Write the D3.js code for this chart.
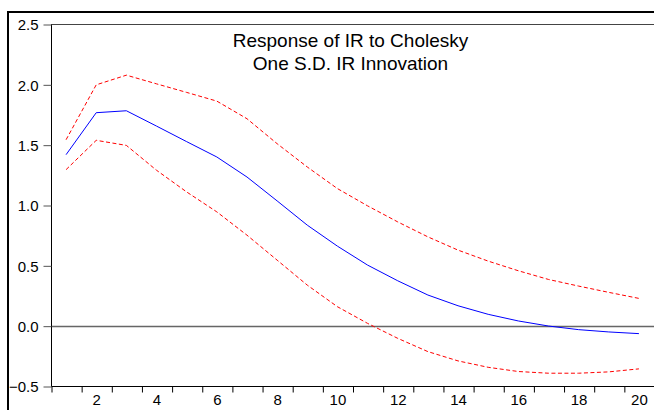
<!DOCTYPE html>
<html>
<head>
<meta charset="utf-8">
<script src="https://cdn.jsdelivr.net/npm/d3@7"></script>
<style>
  body { margin: 0; background: #fff; }
  svg { display: block; font-family: "Liberation Sans", Arial, sans-serif; }
</style>
</head>
<body>
<div id="chart"></div>
<script>
// impulse response periods
const periods = d3.range(1, 21);

// response of IR to one S.D. IR innovation
const response = [1.417, 1.765, 1.781, 1.654, 1.525, 1.398, 1.232, 1.034, 0.833, 0.659,
                  0.502, 0.372, 0.254, 0.165, 0.094, 0.039, -0.003, -0.033, -0.052, -0.066];

// +/- 2 S.E. bands
const upperBand = [1.541, 1.996, 2.076, 2.004, 1.933, 1.861, 1.715, 1.508, 1.315, 1.136,
                   0.993, 0.860, 0.736, 0.626, 0.535, 0.455, 0.383, 0.328, 0.276, 0.226];
const lowerBand = [1.293, 1.536, 1.494, 1.288, 1.108, 0.943, 0.750, 0.543, 0.336, 0.157,
                   0.019, -0.105, -0.215, -0.292, -0.345, -0.380, -0.394, -0.394, -0.383, -0.358];

const yTicks = [-0.5, 0.0, 0.5, 1.0, 1.5, 2.0, 2.5];
const xLabels = [2, 4, 6, 8, 10, 12, 14, 16, 18, 20];
const titleLines = ['Response of IR to Cholesky', 'One S.D. IR Innovation'];

const width = 654, height = 410;
const plotLeft = 51, plotRight = 654, plotTop = 24, plotBottom = 386;

const svg = d3.select('#chart')
  .append('svg')
  .attr('width', width)
  .attr('height', height);

// outer frame (runs off the right / bottom edge)
svg.append('path')
  .attr('d', `M8,${height + 5}V12H${width + 5}`)
  .attr('fill', 'none')
  .attr('stroke', '#000')
  .attr('stroke-width', 2);

const x = d3.scaleLinear().domain([0.5, 20.5]).range([plotLeft, plotRight]);
const y = d3.scaleLinear().domain([-0.5, 2.5]).range([plotBottom, plotTop]);

// top border of the plot area
svg.append('line')
  .attr('x1', plotLeft).attr('x2', width)
  .attr('y1', plotTop + 0.5).attr('y2', plotTop + 0.5)
  .attr('stroke', '#444');

// zero line
svg.append('line')
  .attr('x1', plotLeft).attr('x2', width)
  .attr('y1', Math.round(y(0)) + 0.5).attr('y2', Math.round(y(0)) + 0.5)
  .attr('stroke', '#666')
  .attr('stroke-width', 1.3);

// left axis
svg.append('g')
  .attr('transform', `translate(${plotLeft + 0.5},0.5)`)
  .call(d3.axisLeft(y)
    .tickValues(yTicks)
    .tickFormat(d3.format('.1f'))
    .tickSize(8)
    .tickPadding(5))
  .call(g => g.select('.domain').attr('stroke', '#000').attr('d', `M0,${plotTop}V${plotBottom}`))
  .call(g => g.selectAll('.tick line').attr('stroke', '#555'))
  .call(g => g.selectAll('.tick text')
    .attr('font-size', 15)
    .attr('font-family', '"Liberation Sans", Arial, sans-serif')
    .attr('fill', '#000')
    .attr('dy', '0.36em'));

// bottom axis: ticks at period boundaries
svg.append('g')
  .attr('transform', `translate(0.5,${plotBottom + 0.5})`)
  .call(d3.axisBottom(x)
    .tickValues(d3.range(0.5, 21, 1))
    .tickFormat('')
    .tickSize(6))
  .call(g => g.select('.domain').attr('d', `M${plotLeft},0H${width}`).attr('stroke', '#000'))
  .call(g => g.selectAll('.tick line').attr('stroke', '#000'));

// bottom labels centred on even periods
svg.append('g')
  .attr('transform', `translate(0,${plotBottom})`)
  .call(d3.axisBottom(x)
    .tickValues(xLabels)
    .tickSize(0)
    .tickPadding(8))
  .call(g => g.select('.domain').remove())
  .call(g => g.selectAll('.tick text')
    .attr('font-size', 15)
    .attr('font-family', '"Liberation Sans", Arial, sans-serif')
    .attr('fill', '#000'));

const line = d3.line()
  .x((d, i) => x(periods[i]))
  .y(d => y(d));

svg.append('path')
  .datum(upperBand)
  .attr('d', line)
  .attr('fill', 'none')
  .attr('stroke', '#ff0000')
  .attr('stroke-width', 1)
  .attr('stroke-dasharray', '4,2.5');

svg.append('path')
  .datum(lowerBand)
  .attr('d', line)
  .attr('fill', 'none')
  .attr('stroke', '#ff0000')
  .attr('stroke-width', 1)
  .attr('stroke-dasharray', '4,2.5');

svg.append('path')
  .datum(response)
  .attr('d', line)
  .attr('fill', 'none')
  .attr('stroke', '#0000ff')
  .attr('stroke-width', 1);

// title
svg.append('g')
  .selectAll('text')
  .data(titleLines)
  .join('text')
    .attr('x', (plotLeft + plotRight) / 2 - 2)
    .attr('y', (d, i) => 47 + i * 23)
    .attr('text-anchor', 'middle')
    .attr('font-size', 19)
    .attr('fill', '#000')
    .text(d => d);
</script>
</body>
</html>
